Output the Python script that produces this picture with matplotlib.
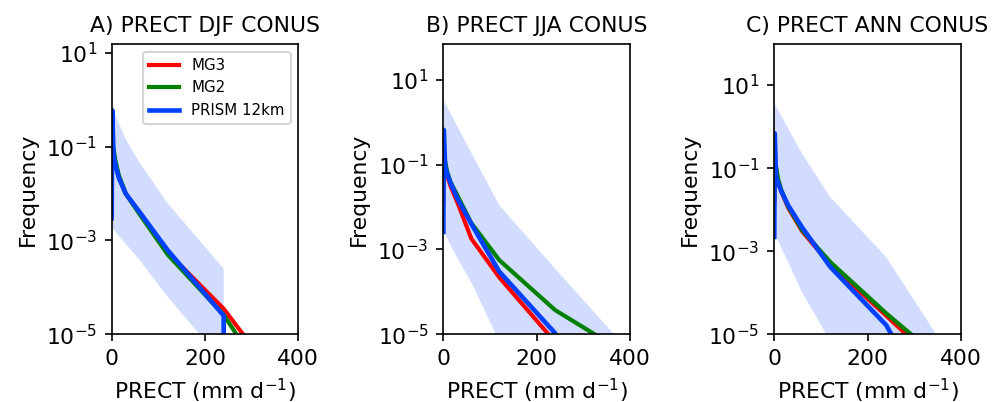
import matplotlib
matplotlib.use("Agg")
import matplotlib.pyplot as plt
from matplotlib.ticker import NullLocator, FixedLocator

plt.rcParams["font.size"] = 10.5

# precipitation bins (mm/day), shared by all curves
prect = [0, 1, 4, 8, 15, 30, 60, 120, 240, 480]

# A) DJF
djf_mg3 = [2.5e-2, 5e-2, 7e-2, 4.5e-2, 2.3e-2, 1e-2, 3.8e-3, 5.6e-4, 3.5e-5, 2.5e-8]
djf_mg2 = [1.6e-2, 1e-1, 9e-2, 5e-2, 2.5e-2, 1e-2, 3.6e-3, 5e-4, 2.6e-5, 6e-9]
djf_prism = [3e-3, 6e-1, 6.6e-2, 4e-2, 2.2e-2, 1e-2, 4e-3, 6.2e-4, 2.5e-5, 0]
djf_hi = [7e-1, 7e-1, 6e-1, 4.8e-1, 3.2e-1, 1.45e-1, 4.5e-2, 6.2e-3, 2.5e-4, 0]
djf_lo = [1.9e-3, 1.9e-3, 1.7e-3, 1.55e-3, 1.26e-3, 8.5e-4, 3.8e-4, 6.3e-5, 2.5e-6, 0]

# B) JJA
jja_mg3 = [1.3e-2, 6e-2, 8.9e-2, 5.6e-2, 3.2e-2, 1.3e-2, 1.8e-3, 2.2e-4, 6.5e-6, 6e-9]
jja_mg2 = [3e-2, 1.2e-1, 1.17e-1, 7e-2, 4e-2, 1.9e-2, 4.2e-3, 5.6e-4, 3.7e-5, 9e-7]
jja_prism = [2.6e-3, 6.6e-1, 8.9e-2, 6.3e-2, 3.8e-2, 1.6e-2, 4e-3, 3e-4, 1.05e-5, 0]
jja_hi = [3.4, 3.4, 2.8, 2.3, 1.65, 8e-1, 1.9e-1, 1.1e-2, 3.5e-4, 4e-7]
jja_lo = [2.8e-3, 2.8e-3, 2.3e-3, 1.9e-3, 1.3e-3, 6.3e-4, 1.66e-4, 6.8e-6, 3e-8, 0]

# C) ANN
ann_mg3 = [1.5e-2, 8e-2, 8.9e-2, 5e-2, 2.8e-2, 1.1e-2, 3e-3, 4.8e-4, 2.8e-5, 8.5e-8]
ann_mg2 = [2e-2, 1e-1, 1.07e-1, 5.6e-2, 3e-2, 1.17e-2, 3.2e-3, 5.5e-4, 3.2e-5, 1.7e-7]
ann_prism = [2.2e-3, 6.9e-1, 6.2e-2, 4.5e-2, 2.8e-2, 1.26e-2, 3.7e-3, 4.2e-4, 1.66e-5, 2.5e-10]
ann_hi = [3.6, 3.6, 3.0, 2.5, 1.8, 9e-1, 2.2e-1, 2e-2, 7.2e-4, 5e-8]
ann_lo = [2.7e-3, 2.7e-3, 2.2e-3, 1.8e-3, 1.2e-3, 5.4e-4, 1e-4, 6.9e-6, 3e-8, 0]

titles = ["A) PRECT DJF CONUS", "B) PRECT JJA CONUS", "C) PRECT ANN CONUS"]
mg3 = [djf_mg3, jja_mg3, ann_mg3]
mg2 = [djf_mg2, jja_mg2, ann_mg2]
prism = [djf_prism, jja_prism, ann_prism]
band_hi = [djf_hi, jja_hi, ann_hi]
band_lo = [djf_lo, jja_lo, ann_lo]
ytop = [15.2, 69, 96]

blue = "#0040ff"

fig = plt.figure(figsize=(1001 / 150, 402 / 150), dpi=150)
lefts = [0.1116, 0.4429, 0.7735]

for i in range(3):
    ax = fig.add_axes([lefts[i], 0.1684, 0.1864, 0.7214])
    ax.set_yscale("log")
    ax.fill_between(prect, band_lo[i], band_hi[i], color=blue, alpha=0.18, lw=0)
    ax.plot(prect, mg3[i], color="red", lw=2, label="MG3")
    ax.plot(prect, mg2[i], color="green", lw=2, label="MG2")
    ax.plot(prect, prism[i], color=blue, lw=2.2, label="PRISM 12km")
    ax.set_xlim(0, 400)
    ax.set_ylim(1e-5, ytop[i])
    ax.set_xticks([0, 200, 400])
    ax.yaxis.set_major_locator(FixedLocator([1e-5, 1e-3, 1e-1, 1e1]))
    ax.yaxis.set_minor_locator(NullLocator())
    ax.set_title(titles[i], fontsize=10.5)
    ax.set_xlabel("PRECT (mm d$^{-1}$)")
    ax.set_ylabel("Frequency")
    if i == 0:
        ax.legend(loc="upper right", fontsize=7.2)

fig.savefig("out.png", dpi=150)
